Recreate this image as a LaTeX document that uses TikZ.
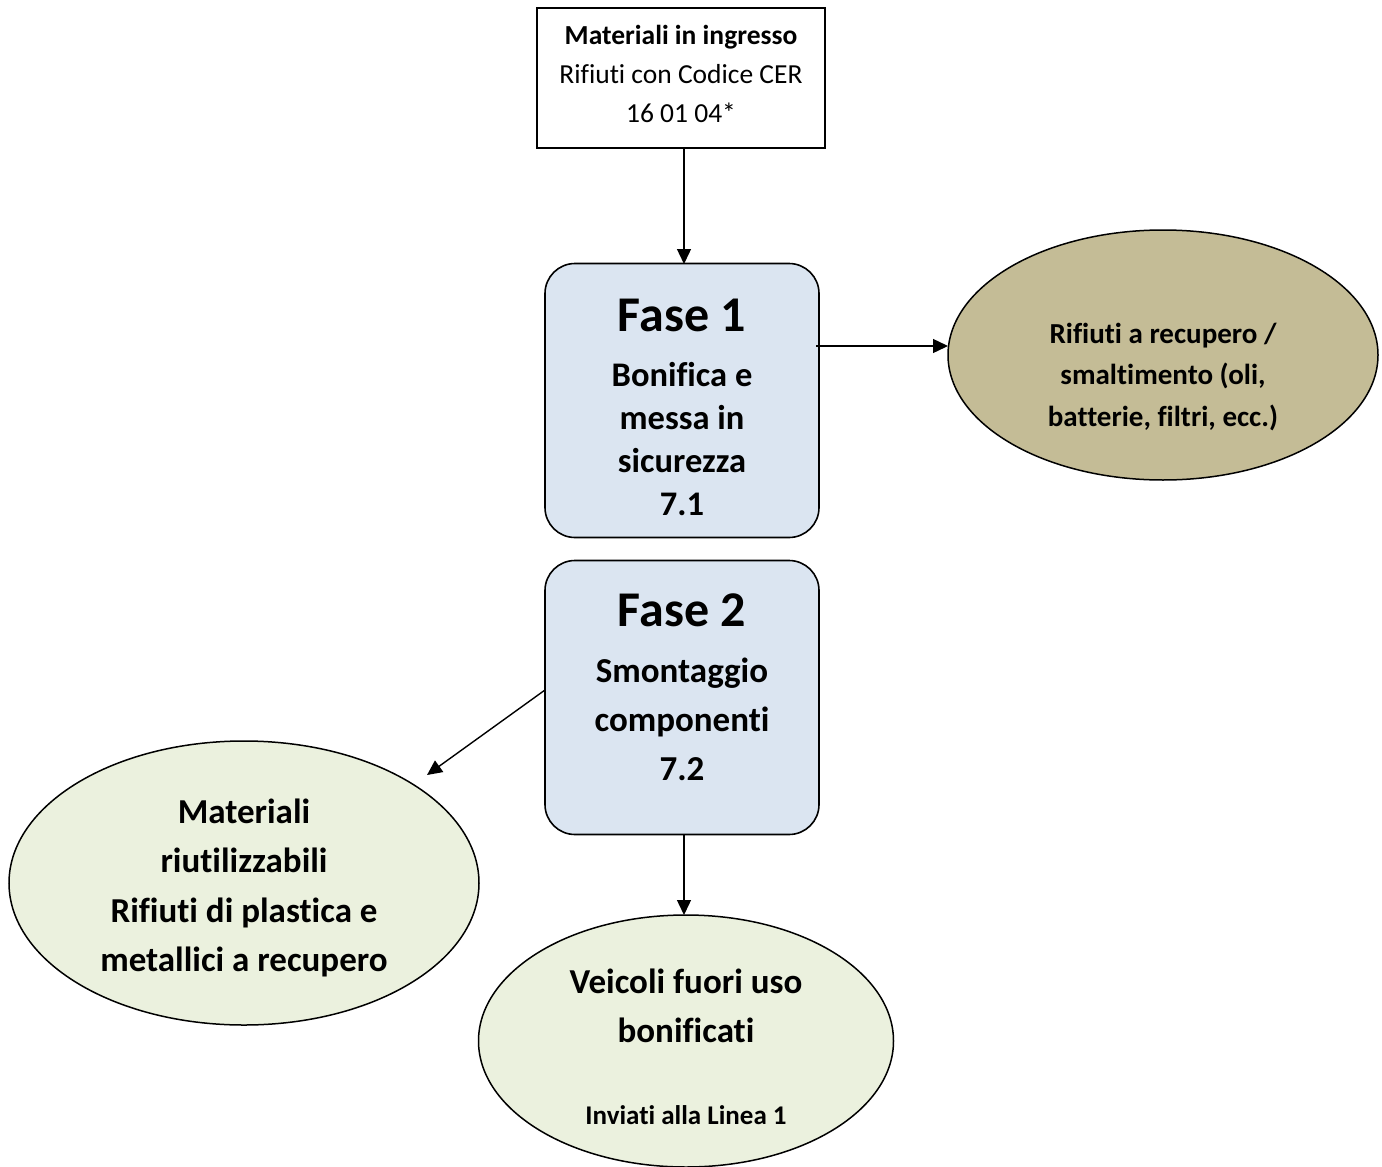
\documentclass[tikz,border=0pt]{standalone}
\usepackage{fontspec}
\setmainfont{Carlito}[Ligatures=NoCommon]
\usetikzlibrary{shapes.geometric,arrows.meta}
\definecolor{phaseblue}{HTML}{DBE5F1}
\definecolor{tanfill}{HTML}{C4BC96}
\definecolor{greenfill}{HTML}{EBF1DE}
\begin{document}
\begin{tikzpicture}[x=1pt,y=-1pt,
  inbox/.style={draw,line width=1.6pt,fill=white,minimum width=288pt,minimum height=140pt,inner sep=0pt},
  phase/.style={draw,line width=1.6pt,fill=phaseblue,rounded corners=30pt,minimum width=274pt,minimum height=274pt,inner sep=0pt},
  oval/.style={draw,ellipse,line width=1.5pt,inner sep=0pt},
  txt/.style={align=center,inner sep=0pt},
  arr/.style={line width=1.4pt,-{Triangle[length=15pt,width=14pt]}}]
\useasboundingbox (0,0) rectangle (1382,1167);
\node[inbox] (in) at (681,78) {};
\node[phase] (f1) at (682,400.5) {};
\node[phase] (f2) at (682,697.5) {};
\node[oval,fill=tanfill,minimum width=430pt,minimum height=250pt] (rec) at (1163,355) {};
\node[oval,fill=greenfill,minimum width=470pt,minimum height=284pt] (mat) at (244,883) {};
\node[oval,fill=greenfill,minimum width=415pt,minimum height=252pt] (vfu) at (686,1041) {};

\node[txt,font=\fontsize{27.5}{39}\selectfont] (tin) at (681,74)
  {\textbf{Materiali in ingresso}\\Rifiuti con Codice CER\\16 01 04*};
\node[txt,font=\fontsize{50}{54}\selectfont\bfseries] (tf1) at (682,315) {Fase 1};
\node[txt,font=\fontsize{34.5}{43}\selectfont\bfseries] (tf1b) at (682,439)
  {Bonifica e\\messa in\\sicurezza\\7.1};
\node[txt,font=\fontsize{50}{54}\selectfont\bfseries] (tf2) at (682,610) {Fase 2};
\node[txt,font=\fontsize{35}{49}\selectfont\bfseries] (tf2b) at (682,719)
  {Smontaggio\\componenti\\7.2};
\node[txt,font=\fontsize{29}{41.5}\selectfont\bfseries] (trec) at (1163,377)
  {Rifiuti a recupero /\\smaltimento (oli,\\batterie, filtri, ecc.)};
\node[txt,font=\fontsize{35}{49.5}\selectfont\bfseries] (tmat) at (244,888)
  {Materiali\\riutilizzabili\\Rifiuti di plastica e\\metallici a recupero};
\node[txt,font=\fontsize{35}{49}\selectfont\bfseries] (tvfu) at (686,1006)
  {Veicoli fuori uso\\bonificati};
\node[txt,font=\fontsize{27}{30}\selectfont\bfseries] (tlin) at (686,1115) {Inviati alla Linea 1};

\coordinate (a1s) at (684,148);
\coordinate (a1e) at (684,264);
\coordinate (a2s) at (816,346);
\coordinate (a2e) at (948,346);
\coordinate (a3s) at (545,690);
\coordinate (a3e) at (427,775);
\coordinate (a4s) at (684,835);
\coordinate (a4e) at (684,915);
\draw[arr] (a1s) -- (a1e);
\draw[arr] (a2s) -- (a2e);
\draw[arr] (a3s) -- (a3e);
\draw[arr] (a4s) -- (a4e);
\end{tikzpicture}
\end{document}
